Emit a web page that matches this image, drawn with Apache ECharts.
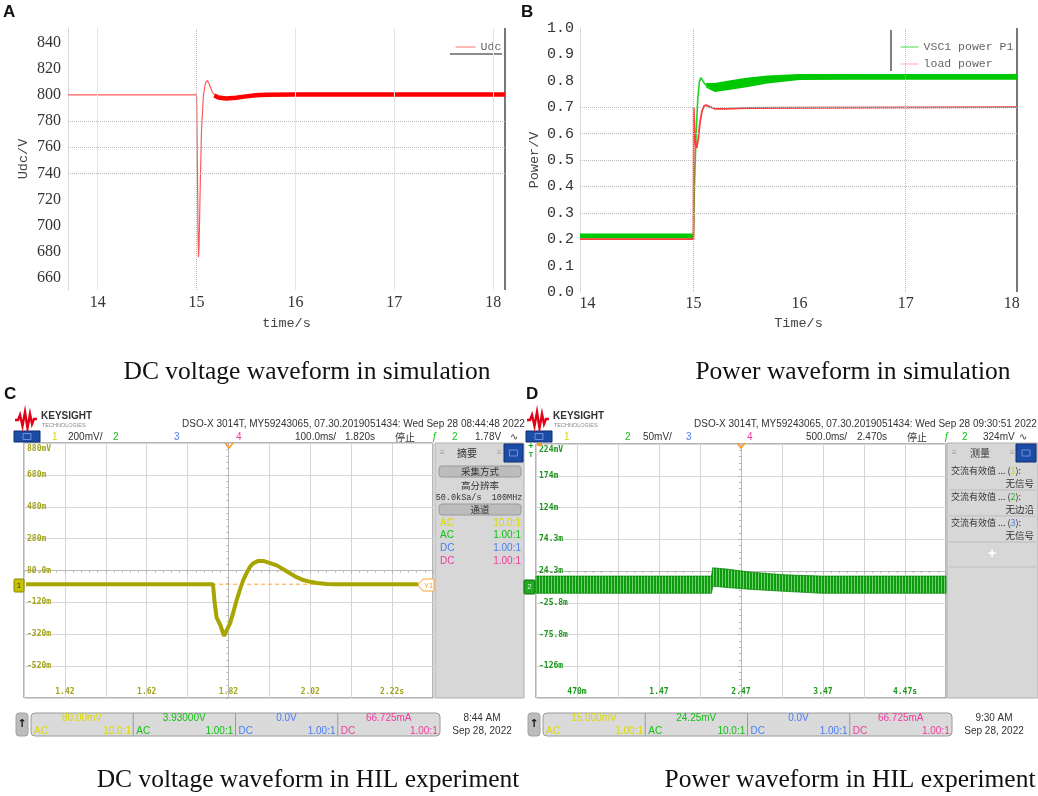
<!DOCTYPE html>
<html>
<head>
<meta charset="utf-8">
<script src="https://cdn.jsdelivr.net/npm/echarts@6/dist/echarts.min.js"></script>
<style>
  html, body { margin: 0; padding: 0; background: #fff; }
  #main { width: 1038px; height: 796px; }
</style>
</head>
<body>
<div id="main"></div>
<script>
// ---------- A: DC voltage in simulation (time s, Udc V) ----------
const simTicksA = [14, 15, 16, 17, 18];
const udcTicks = [660, 680, 700, 720, 740, 760, 780, 800, 820, 840];
const udcTransient = [[13.7, 800], [15.0, 800], [15.004, 780], [15.01, 735], [15.015, 695], [15.02, 676],
  [15.026, 685], [15.035, 722], [15.05, 772], [15.07, 800], [15.09, 809], [15.11, 811], [15.13, 808],
  [15.16, 802], [15.2, 798.5], [15.25, 797.5]];
const udcRipple = [[15.18, 799.5], [15.22, 798], [15.3, 797.2], [15.4, 797.8], [15.5, 798.8], [15.6, 799.6],
  [15.7, 800.1], [16.0, 800.3], [17.0, 800.3], [18.12, 800.3]];
const aSolidX = [14, 16, 17, 18];
const aDottedX = [15];
const aDottedY = [740, 760, 780];

// ---------- B: power in simulation ----------
const simTicksB = [14, 15, 16, 17, 18];
const p1Rise = [[15.0, 0.21], [15.004, 0.29], [15.008, 0.38], [15.015, 0.48], [15.025, 0.6], [15.04, 0.73],
  [15.055, 0.795], [15.07, 0.812], [15.085, 0.806], [15.1, 0.792], [15.13, 0.778], [15.16, 0.772]];
const p1BandPre = [[13.93, 0.203, 0.222], [15.0, 0.203, 0.222]];            // [t, low, high]
const p1BandPost = [[15.12, 0.774, 0.792], [15.2, 0.758, 0.792], [15.35, 0.766, 0.802],
  [15.5, 0.776, 0.812], [15.7, 0.79, 0.82], [16.0, 0.803, 0.826], [16.5, 0.804, 0.826], [18.05, 0.804, 0.826]];
const loadPower = [[13.93, 0.2], [15.0, 0.2], [15.002, 0.70], [15.006, 0.66], [15.012, 0.6], [15.02, 0.56],
  [15.03, 0.545], [15.045, 0.58], [15.06, 0.64], [15.08, 0.685], [15.1, 0.705], [15.12, 0.708],
  [15.15, 0.702], [15.2, 0.694], [15.3, 0.694], [15.5, 0.697], [16.0, 0.698], [18.05, 0.70]];
const bDottedX = [15, 17];
const bDottedY = [0.3, 0.4, 0.5, 0.6, 0.7];

// ---------- C: DC voltage HIL (t s, mV) ----------
const cTimeLabels = ['', '1.42', '', '1.62', '', '1.82', '', '2.02', '', '2.22s', ''];
const cVoltLabels = ['', '-520m', '-320m', '-120m', '80.0m', '280m', '480m', '680m', '880mV'];
const cTrace = [[1.325, -6], [1.782, -6], [1.786, -120], [1.791, -215], [1.80, -262], [1.809, -330],
  [1.816, -292], [1.824, -250], [1.832, -180], [1.84, -105], [1.848, -40], [1.856, 20], [1.864, 63],
  [1.872, 100], [1.88, 125], [1.893, 140], [1.905, 140], [1.92, 128], [1.938, 112], [1.955, 86],
  [1.97, 63], [1.985, 40], [2.003, 20], [2.02, 9], [2.036, 2], [2.06, -4], [2.076, -6], [2.284, -6]];
const cY1Level = [[1.78, -6], [2.28, -6]];
const cReadouts = [['80.00mV', 'AC', '10.0:1'], ['3.93000V', 'AC', '1.00:1'], ['0.0V', 'DC', '1.00:1'], ['66.725mA', 'DC', '1.00:1']];

// ---------- D: power HIL (t s, mV) ----------
const dTimeLabels = ['', '470m', '', '1.47', '', '2.47', '', '3.47', '', '4.47s', ''];
const dVoltLabels = ['', '-126m', '-75.8m', '-25.8m', '24.3m', '74.3m', '124m', '174m', '224mV'];
const dBand = [[-0.03, -11, 16], [2.11, -11, 16], [2.125, 0, 29], [2.3, -2, 27], [2.6, -5, 22],
  [3.0, -8, 18], [3.45, -11, 16], [4.97, -11, 16]];
const dReadouts = [['15.000mV', 'AC', '1.00:1'], ['24.25mV', 'AC', '10.0:1'], ['0.0V', 'DC', '1.00:1'], ['66.725mA', 'DC', '1.00:1']];

const CH = ['#dcd800', '#12c012', '#4a7ef0', '#f03c9c'];
const CJK = 'Noto Sans CJK SC';
const SANS = 'Liberation Sans';

// ---------- graphic helpers ----------
const G = [];
function T(x, y, s, st, z) {
  G.push({ type: 'text', x: x, y: y, z: z || 5, silent: true,
    style: Object.assign({ text: s, fill: '#333', fontSize: 10, fontFamily: SANS, align: 'left', verticalAlign: 'middle' }, st || {}) });
}
function R(x, y, w, h, st, r, z) {
  G.push({ type: 'rect', z: z || 1, silent: true, shape: { x: x, y: y, width: w, height: h, r: r || 0 }, style: st });
}
function L(x1, y1, x2, y2, st, z) {
  G.push({ type: 'line', z: z || 3, silent: true, shape: { x1: x1, y1: y1, x2: x2, y2: y2 }, style: Object.assign({ stroke: '#999', lineWidth: 1 }, st) });
}
function P(pts, st, z) {
  G.push({ type: 'polyline', z: z || 5, silent: true, shape: { points: pts }, style: Object.assign({ fill: null, lineWidth: 1 }, st) });
}
function blueBox(x, y, w, h) {
  R(x, y, w, h, { fill: '#1c4ca6', stroke: '#0b2c6c', lineWidth: 1 }, 0, 4);
  R(x + w / 2 - 4, y + h / 2 - 3, 8, 6, { fill: null, stroke: '#6f90d8', lineWidth: 1 }, 0, 5);
}

// panel letters and captions
T(3, 12, 'A', { fontSize: 17, fontWeight: 'bold', fill: '#111' });
T(521, 12, 'B', { fontSize: 17, fontWeight: 'bold', fill: '#111' });
T(4, 394, 'C', { fontSize: 17, fontWeight: 'bold', fill: '#111' });
T(526, 394, 'D', { fontSize: 17, fontWeight: 'bold', fill: '#111' });
const capStyle = { fontSize: 25.5, fontFamily: 'Liberation Serif', fill: '#111', align: 'center' };
T(307, 372, 'DC voltage waveform in simulation', capStyle);
T(853, 372, 'Power waveform in simulation', capStyle);
T(308, 780, 'DC voltage waveform in HIL experiment', capStyle);
T(850, 780, 'Power waveform in HIL experiment', capStyle);

// simulation frames
L(505, 28, 505, 290, { stroke: '#777', lineWidth: 2 });
L(450, 54, 502, 54, { stroke: '#666', lineWidth: 1.5 });
L(1017, 28, 1017, 292, { stroke: '#777', lineWidth: 2 });
L(891, 30, 891, 71, { stroke: '#555', lineWidth: 1.5 });

// oscilloscope chrome
const logoPts = [[15, 420], [18, 420], [20, 415], [22.5, 426], [25, 412], [27.5, 428], [30, 414], [32, 424], [34, 419], [37, 419]];
function scopeChrome(ox, title, status, readouts, time) {
  P(logoPts.map(p => [p[0] + ox, p[1]]), { stroke: '#e1001a', lineWidth: 2.4 });
  T(ox + 41, 416, 'KEYSIGHT', { fontWeight: 'bold', fontSize: 10 });
  T(ox + 42, 425.5, 'TECHNOLOGIES', { fontSize: 5.5, fill: '#8a8a8a' });
  T(ox + 182, 424, title, { fontSize: 10 });
  blueBox(ox + 14, 431, 26, 11);
  status.forEach(s => T(ox + s[1], 437, s[0], { fill: s[2] || '#333', fontFamily: /[\u4e00-\u9fff]/.test(s[0]) ? CJK : SANS }));
  // bottom bar
  R(ox + 16, 713, 12, 23, { fill: '#bcbcbc', stroke: '#a0a0a0' }, 3);
  T(ox + 22, 724.5, '↑', { align: 'center', fontWeight: 'bold', fontSize: 11, fill: '#111', fontFamily: 'DejaVu Sans' });
  R(ox + 31, 713, 409, 23, { fill: '#dadada', stroke: '#9a9a9a' }, 4);
  readouts.forEach((r, i) => {
    const x0 = ox + 31 + i * 102.25;
    if (i) L(x0, 713, x0, 736, { stroke: '#9a9a9a' });
    T(x0 + 51, 718.5, r[0], { align: 'center', fill: CH[i] });
    T(x0 + 3, 731, r[1], { fill: CH[i] });
    T(x0 + 100, 731, r[2], { align: 'right', fill: CH[i] });
  });
  T(ox + 482, 718, time, { align: 'center' });
  T(ox + 482, 731, 'Sep 28, 2022', { align: 'center' });
  // trigger marker
  P([[ox + 225, 443], [ox + 229, 448], [ox + 233, 443]], { stroke: '#ff9a20', lineWidth: 1.5 }, 8);
}
scopeChrome(0, 'DSO-X 3014T, MY59243065, 07.30.2019051434: Wed Sep 28 08:44:48 2022',
  [['1', 52, CH[0]], ['200mV/', 68], ['2', 113, CH[1]], ['3', 174, CH[2]], ['4', 236, CH[3]], ['100.0ms/', 295],
   ['1.820s', 345], ['停止', 395], ['ƒ', 432, CH[1]], ['2', 452, CH[1]], ['1.78V', 475], ['∿', 510]],
  cReadouts, '8:44 AM');
scopeChrome(512, 'DSO-X 3014T, MY59243065, 07.30.2019051434: Wed Sep 28 09:30:51 2022',
  [['1', 52, CH[0]], ['2', 113, CH[1]], ['50mV/', 131], ['3', 174, CH[2]], ['4', 235, CH[3]], ['500.0ms/', 294],
   ['2.470s', 345], ['停止', 395], ['ƒ', 432, CH[1]], ['2', 450, CH[1]], ['324mV', 471], ['∿', 507]],
  dReadouts, '9:30 AM');

// C side panel
R(435, 443, 89, 255, { fill: '#d7d7d7', stroke: '#b0b0b0' });
T(440, 453, '≡', { fill: '#9a9a9a', fontSize: 8 });
T(467, 453, '摘要', { align: 'center', fontFamily: CJK, fontSize: 10 });
T(497, 453, '≡', { fill: '#9a9a9a', fontSize: 8 });
blueBox(504, 444, 19, 18);
R(439, 466, 82, 11, { fill: '#bcbcbc', stroke: '#9a9a9a' }, 3, 2);
T(480, 471.5, '采集方式', { align: 'center', fontFamily: CJK, fontSize: 9.5 });
T(480, 485, '高分辨率', { align: 'center', fontFamily: CJK, fontSize: 9.5 });
T(479, 498, '50.0kSa/s  100MHz', { align: 'center', fontSize: 8.5, fontFamily: 'Liberation Mono' });
R(439, 504, 82, 11, { fill: '#bcbcbc', stroke: '#9a9a9a' }, 3, 2);
T(480, 509.5, '通道', { align: 'center', fontFamily: CJK, fontSize: 9.5 });
[['AC', '10.0:1'], ['AC', '1.00:1'], ['DC', '1.00:1'], ['DC', '1.00:1']].forEach((r, i) => {
  T(440, 523 + i * 12.7, r[0], { fill: CH[i] });
  T(521, 523 + i * 12.7, r[1], { fill: CH[i], align: 'right' });
});

// D side panel
R(947, 443, 91, 255, { fill: '#d7d7d7', stroke: '#b0b0b0' });
T(952, 453, '≡', { fill: '#9a9a9a', fontSize: 8 });
T(980, 453, '测量', { align: 'center', fontFamily: CJK, fontSize: 10 });
T(1010, 453, '≡', { fill: '#9a9a9a', fontSize: 8 });
blueBox(1016, 444, 20, 18);
[['1', '无信号'], ['2', '无边沿'], ['3', '无信号']].forEach((r, i) => {
  const y0 = 471 + i * 26;
  T(951, y0, '交流有效值 ... ({c|' + r[0] + '}):', { fontFamily: CJK, fontSize: 9, rich: { c: { fill: CH[i], fontSize: 9, fontFamily: CJK } } });
  T(1034, y0 + 12, r[1], { fontFamily: CJK, fontSize: 9.5, align: 'right' });
  L(949, y0 + 19, 1036, y0 + 19, { stroke: '#bdbdbd' });
});
T(992, 554, '+', { fill: '#fff', fontSize: 14, align: 'center', fontWeight: 'bold' });
L(949, 567, 1036, 567, { stroke: '#bdbdbd' });

// scope markers
R(14, 579, 10, 13, { fill: '#c9c200', stroke: '#8a8500' }, 1, 9);
T(19, 585.5, '1', { align: 'center', fontSize: 8, fill: '#333' }, 10);
G.push({ type: 'polygon', z: 9, silent: true, shape: { points: [[418, 585], [423, 579], [434, 579], [434, 591], [423, 591]] },
  style: { fill: '#fff', stroke: '#ffa030', lineWidth: 1 } });
T(428.5, 585.5, 'Y1', { align: 'center', fontSize: 7.5, fill: '#ffa030' }, 10);
R(524, 580, 11, 14, { fill: '#22aa22', stroke: '#0a6a0a' }, 1, 9);
T(529.5, 587, '2', { align: 'center', fontSize: 8, fill: '#d8ffd8' }, 10);
T(531, 447, '+', { align: 'center', fontSize: 9, fill: '#17a017', fontWeight: 'bold' }, 10);
T(531, 455, 'T', { align: 'center', fontSize: 7, fill: '#17a017', fontWeight: 'bold' }, 10);
R(537, 443, 5, 3, { fill: '#ff9a20' }, 0, 9);

// ---------- axes ----------
const serifLbl = { fontFamily: 'Liberation Serif', fontSize: 16, color: '#333' };
const monoName = { fontFamily: 'Liberation Mono', fontSize: 13.5, color: '#444' };

function realAxis(gi, min, max) {
  return { type: 'value', gridIndex: gi, min: min, max: max, show: false, axisLine: { onZero: false }, splitLine: { show: false } };
}
function divAxis(gi, n, labels, color, isX) {
  const lbl = { color: color, fontSize: 8, fontFamily: 'DejaVu Sans Mono', fontWeight: 'bold' };
  return {
    type: 'value', gridIndex: gi, min: 0, max: n, interval: 1, position: isX ? 'bottom' : 'left',
    axisLine: { show: false, onZero: false }, axisTick: { show: false },
    splitLine: { show: true, lineStyle: { color: '#d6d6d6', width: 1 } },
    axisLabel: Object.assign({
      inside: true, margin: isX ? 2 : 3, showMinLabel: true, showMaxLabel: true,
      formatter: v => { const s = labels[Math.round(v)] || ''; return (!isX && Math.round(v) === n && s) ? '{t|' + s + '}' : s; },
      rich: { t: Object.assign({ padding: [11, 0, 0, 0] }, lbl) }
    }, lbl)
  };
}
function centerAxis(gi, n, half, isX) {
  return {
    type: 'value', gridIndex: gi, min: 0, max: n, interval: 1, position: isX ? 'bottom' : 'left', offset: -half,
    axisLine: { show: true, onZero: false, lineStyle: { color: '#b4b4b4', type: 'dotted', width: 1 } },
    axisTick: { show: true, length: 3, lineStyle: { color: '#b4b4b4' } },
    minorTick: { show: true, splitNumber: 5, length: 2, lineStyle: { color: '#b4b4b4' } },
    axisLabel: { show: false }, splitLine: { show: false }
  };
}

const xAxis = [
  { type: 'value', gridIndex: 0, min: 13.7, max: 18.12, name: 'time/s', nameLocation: 'middle', nameGap: 26, nameTextStyle: monoName,
    axisLine: { show: false, onZero: false }, axisTick: { show: false }, splitLine: { show: false },
    axisLabel: Object.assign({ customValues: simTicksA, margin: 5 }, serifLbl) },
  { type: 'value', gridIndex: 1, min: 13.93, max: 18.05, name: 'Time/s', nameLocation: 'middle', nameGap: 24, nameTextStyle: monoName,
    axisLine: { show: false, onZero: false }, axisTick: { show: false }, splitLine: { show: false },
    axisLabel: Object.assign({ customValues: simTicksB, margin: 4 }, serifLbl) },
  realAxis(2, 1.32, 2.32), divAxis(2, 10, cTimeLabels, '#a3a31a', true), centerAxis(2, 10, 127.5, true),
  realAxis(3, -0.03, 4.97), divAxis(3, 10, dTimeLabels, '#1a961a', true), centerAxis(3, 10, 127, true)
];
const yAxis = [
  { type: 'value', gridIndex: 0, min: 651, max: 851, name: 'Udc/V', nameLocation: 'middle', nameGap: 38, nameRotate: 90, nameTextStyle: monoName,
    axisLine: { show: true, onZero: false, lineStyle: { color: '#d8d8d8' } }, axisTick: { show: false }, splitLine: { show: false },
    axisLabel: Object.assign({ customValues: udcTicks, margin: 7 }, serifLbl) },
  { type: 'value', gridIndex: 1, min: 0, max: 1, interval: 0.1, name: 'Power/V', nameLocation: 'middle', nameGap: 39, nameRotate: 90, nameTextStyle: monoName,
    axisLine: { show: true, onZero: false, lineStyle: { color: '#d8d8d8' } }, axisTick: { show: false }, splitLine: { show: false },
    axisLabel: { margin: 6, fontFamily: 'Liberation Mono', fontSize: 15, color: '#333', formatter: v => v.toFixed(1) } },
  realAxis(2, -720, 880), divAxis(2, 8, cVoltLabels, '#a3a31a', false), centerAxis(2, 8, 204.5, false),
  realAxis(3, -176, 224), divAxis(3, 8, dVoltLabels, '#1a961a', false), centerAxis(3, 8, 205, false)
];

// ---------- series ----------
function gridLines(xs, ys, style) {
  return xs.map(v => ({ xAxis: v, lineStyle: style })).concat(ys.map(v => ({ yAxis: v, lineStyle: style })));
}
const faint = { color: '#e6e6e6', type: 'solid', width: 1 };
const dotted = { color: '#b8b8b8', type: 'dotted', width: 1 };

function bandSeries(pts, xi, yi, style, z) {
  return {
    type: 'custom', xAxisIndex: xi, yAxisIndex: yi, silent: true, z: z || 2, data: pts,
    renderItem: function (params, api) {
      if (params.dataIndex !== 0) return null;
      const up = pts.map(p => api.coord([p[0], p[2]]));
      const lo = pts.map(p => api.coord([p[0], p[1]])).reverse();
      return { type: 'polygon', shape: { points: up.concat(lo) }, style: style };
    }
  };
}

// hatch pattern for the HIL power trace
const pat = document.createElement('canvas');
pat.width = 3; pat.height = 6;
const pg = pat.getContext('2d');
pg.fillStyle = '#109a10'; pg.fillRect(0, 0, 3, 6);
pg.fillStyle = '#6fd46f'; pg.fillRect(2, 0, 1, 6);

const series = [
  { type: 'line', name: 'Udc', xAxisIndex: 0, yAxisIndex: 0, data: udcTransient, symbol: 'none', z: 3,
    lineStyle: { color: '#ff5a5a', width: 1.2 },
    markLine: { silent: true, symbol: 'none', label: { show: false },
      data: gridLines(aSolidX, [], faint).concat(gridLines(aDottedX, aDottedY, dotted)) } },
  { type: 'line', name: 'Udc', xAxisIndex: 0, yAxisIndex: 0, data: udcRipple, symbol: 'none', z: 3,
    lineStyle: { color: '#ff0000', width: 4.5 } },
  { type: 'line', name: 'VSC1 power P1', xAxisIndex: 1, yAxisIndex: 1, data: p1Rise, symbol: 'none', z: 3,
    lineStyle: { color: '#22d422', width: 1.6 },
    markLine: { silent: true, symbol: 'none', label: { show: false }, data: gridLines(bDottedX, bDottedY, dotted) } },
  bandSeries(p1BandPre, 1, 1, { fill: '#00c800' }, 3),
  bandSeries(p1BandPost, 1, 1, { fill: '#00c800' }, 3),
  { type: 'line', name: 'load power', xAxisIndex: 1, yAxisIndex: 1, data: loadPower, symbol: 'none', z: 4,
    lineStyle: { color: '#ff3b3b', width: 1.8 } },
  { type: 'line', xAxisIndex: 2, yAxisIndex: 2, data: cY1Level, symbol: 'none', z: 3, silent: true,
    lineStyle: { color: '#ffa030', width: 1, type: [4, 3] } },
  { type: 'line', xAxisIndex: 2, yAxisIndex: 2, data: cTrace, symbol: 'none', z: 4, silent: true,
    lineStyle: { color: '#a9a500', width: 4 } },
  bandSeries(dBand, 5, 5, { fill: { image: pat, repeat: 'repeat' }, stroke: '#0c8a0c', lineWidth: 0.8 }, 4)
];

const legendText = { fontFamily: 'Liberation Mono', fontSize: 11.5, color: '#666' };
const option = {
  animation: false,
  grid: [
    { left: 68, top: 28, width: 437, height: 262 },
    { left: 580, top: 28, width: 437, height: 264 },
    { left: 24, top: 443, width: 409, height: 255, show: true, borderColor: '#6a6a6a', borderWidth: 1, backgroundColor: '#fff' },
    { left: 536, top: 444, width: 410, height: 254, show: true, borderColor: '#6a6a6a', borderWidth: 1, backgroundColor: '#fff' }
  ],
  legend: [
    { left: 450, top: 36, itemWidth: 20, itemHeight: 10, itemGap: 5, selectedMode: false, itemStyle: { opacity: 0 },
      data: [{ name: 'Udc', lineStyle: { color: '#ff8a8a', width: 1.2 } }], textStyle: legendText },
    { left: 895, top: 36, orient: 'vertical', itemWidth: 18, itemHeight: 10, itemGap: 5, selectedMode: false, itemStyle: { opacity: 0 },
      data: [{ name: 'VSC1 power P1', lineStyle: { color: '#66e066', width: 1.2 } }, { name: 'load power', lineStyle: { color: '#ffbcbc', width: 1.2 } }],
      textStyle: legendText }
  ],
  xAxis: xAxis,
  yAxis: yAxis,
  series: series,
  graphic: { elements: G }
};

const chart = echarts.init(document.getElementById('main'), null, { renderer: 'canvas' });
chart.setOption(option);
</script>
</body>
</html>
